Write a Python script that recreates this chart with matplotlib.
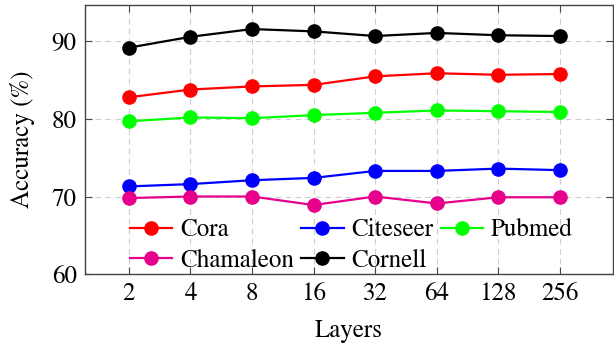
import matplotlib
matplotlib.use('Agg')
import matplotlib.pyplot as plt

plt.rcParams['font.family'] = ['STIXGeneral', 'Liberation Serif', 'DejaVu Serif']
plt.rcParams['mathtext.fontset'] = 'stix'

layers = ['2', '4', '8', '16', '32', '64', '128', '256']
cora = [82.8, 83.8, 84.2, 84.4, 85.5, 85.9, 85.7, 85.8]
citeseer = [71.3, 71.6, 72.1, 72.4, 73.3, 73.3, 73.6, 73.4]
pubmed = [79.7, 80.2, 80.1, 80.5, 80.8, 81.1, 81.0, 80.9]
chamaleon = [69.8, 70.0, 70.0, 68.9, 70.0, 69.1, 69.9, 69.9]
cornell = [89.2, 90.6, 91.6, 91.3, 90.7, 91.1, 90.8, 90.7]

series = [('Cora', cora, '#ff0000'),
          ('Citeseer', citeseer, '#0000ff'),
          ('Pubmed', pubmed, '#00ff00'),
          ('Chamaleon', chamaleon, '#e6008c'),
          ('Cornell', cornell, '#000000')]

fig = plt.figure(figsize=(6.14, 3.46), dpi=100)
ax = fig.add_axes([0.1384, 0.208, 0.8596, 0.7775])
x = list(range(len(layers)))
lines = {}
for name, vals, col in series:
    lines[name], = ax.plot(x, vals, '-o', color=col, lw=1.6, markersize=9.5, label=name)

ax.set_xlim(-0.714, 7.86)
ax.set_ylim(60, 94.7)
ax.set_xticks(x)
ax.set_xticklabels(layers)
ax.set_yticks([60, 70, 80, 90])
ax.tick_params(direction='in', top=True, right=True, labelsize=18, length=5,
               color='#444444', pad=6)
ax.grid(True, linestyle=(0, (5, 4)), color='#cccccc', lw=0.8)
for s in ax.spines.values():
    s.set_color('#444444')
    s.set_linewidth(1.0)
ax.set_xlabel('Layers', fontsize=18, labelpad=9)
ax.set_ylabel('Accuracy (%)', fontsize=18, labelpad=12)

# row-major order like the original legend
order = ['Cora', 'Chamaleon', 'Citeseer', 'Cornell', 'Pubmed']
ax.legend([lines[n] for n in order], order, ncol=3, loc='lower left',
          bbox_to_anchor=(0.085, 0.005), frameon=False,
          fontsize=18, handlelength=1.7, handletextpad=0.3, columnspacing=0.3,
          labelspacing=0.25, borderaxespad=0.0, borderpad=0.0)

fig.savefig('out.png', dpi=100)
